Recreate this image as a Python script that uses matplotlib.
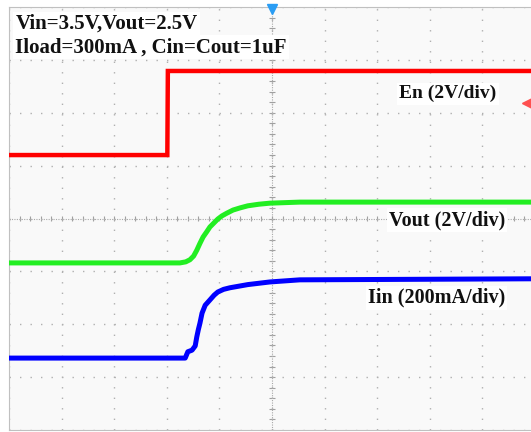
import matplotlib
matplotlib.use('Agg')
import matplotlib.pyplot as plt
import numpy as np

# scope screen: 10 x 8 divisions, values in divisions
en_t = [0.0, 3.01, 3.02, 10.0]
en_v = [5.20, 5.20, 6.79, 6.79]

vout_t = [0.0, 3.25, 3.36, 3.44, 3.51, 3.57, 3.63, 3.69, 3.76, 3.82, 3.90, 3.97, 4.05, 4.14, 4.26, 4.39, 4.54, 4.75, 4.96, 5.53, 10.0]
vout_v = [3.16, 3.16, 3.18, 3.22, 3.29, 3.40, 3.53, 3.65, 3.75, 3.84, 3.92, 3.99, 4.05, 4.10, 4.16, 4.20, 4.24, 4.27, 4.29, 4.31, 4.31]

iin_t = [0.0, 3.35, 3.40, 3.48, 3.54, 3.57, 3.60, 3.63, 3.67, 3.73, 3.82, 3.90, 3.97, 4.08, 4.20, 4.54, 4.96, 5.53, 10.0]
iin_v = [1.36, 1.36, 1.48, 1.51, 1.59, 1.76, 1.90, 2.02, 2.21, 2.36, 2.46, 2.55, 2.61, 2.66, 2.69, 2.75, 2.80, 2.84, 2.86]

trig_level = 6.18
header = ['Vin=3.5V,Vout=2.5V', 'Iload=300mA , Cin=Cout=1uF']
labels = ['En (2V/div)', 'Vout (2V/div)', 'Iin (200mA/div)']

W, H = 531, 432
fig = plt.figure(figsize=(W / 100, H / 100), dpi=100)
x0, x1, y_top, y_bot = 9, 535, 7, 430
ax = fig.add_axes([x0 / W, (H - y_bot) / H, (x1 - x0) / W, (y_bot - y_top) / H])
ax.set_facecolor('#f9f9f9')
ax.set_xlim(0, 10)
ax.set_ylim(0, 8)

# dotted graticule
ax.set_xticks(np.arange(0, 11))
ax.set_yticks(np.arange(0, 9))
ax.tick_params(length=0, labelbottom=False, labelleft=False)
ax.grid(True, color='#b0b0b0', linewidth=1.0, linestyle=(0, (1, 6.56)))
ax.axhline(4, color='#a8a8a8', lw=0.8, ls=(0, (1, 1.2)), zorder=1)
ax.axvline(5, color='#a8a8a8', lw=0.8, ls=(0, (1, 1.2)), zorder=1)
minor = np.arange(0, 10.01, 0.2)
ax.vlines(minor, 4 - 0.05, 4 + 0.05, color='#a0a0a0', lw=0.8, zorder=1)
minor_y = np.arange(0, 8.01, 0.2)
ax.hlines(minor_y, 5 - 0.05, 5 + 0.05, color='#a0a0a0', lw=0.8, zorder=1)
for s in ax.spines.values():
    s.set_color('#c0c0c0')
    s.set_linewidth(0.8)

# traces
ax.plot(en_t, en_v, color='#ff0000', lw=3.2, solid_joinstyle='miter', zorder=3)
ax.plot(vout_t, vout_v, color='#22ee22', lw=3.6, zorder=3)
ax.plot(iin_t, iin_v, color='#0000ff', lw=3.6, zorder=3)

# markers
ax.plot([5.0], [7.96], marker='v', color='#2a9df4', ms=7, clip_on=False, zorder=5)
ax.plot([9.85], [trig_level], marker='<', color='#ff5050', ms=7, clip_on=False, zorder=5)

font = dict(family='Liberation Serif', fontweight='bold', color='#111111')
box = dict(facecolor='white', edgecolor='none', pad=1.5)
ax.text(0.12, 7.68, header[0], fontsize=15, va='center', ha='left', bbox=box, zorder=6, **font)
ax.text(0.12, 7.24, header[1], fontsize=15, va='center', ha='left', bbox=box, zorder=6, **font)
ax.text(9.27, 6.36, labels[0], fontsize=14, va='center', ha='right', bbox=box, zorder=6, **font)
ax.text(9.43, 3.97, labels[1], fontsize=14.5, va='center', ha='right', bbox=box, zorder=6, **font)
ax.text(9.43, 2.50, labels[2], fontsize=14.5, va='center', ha='right', bbox=box, zorder=6, **font)

fig.savefig('out.png', dpi=100, facecolor='white')
